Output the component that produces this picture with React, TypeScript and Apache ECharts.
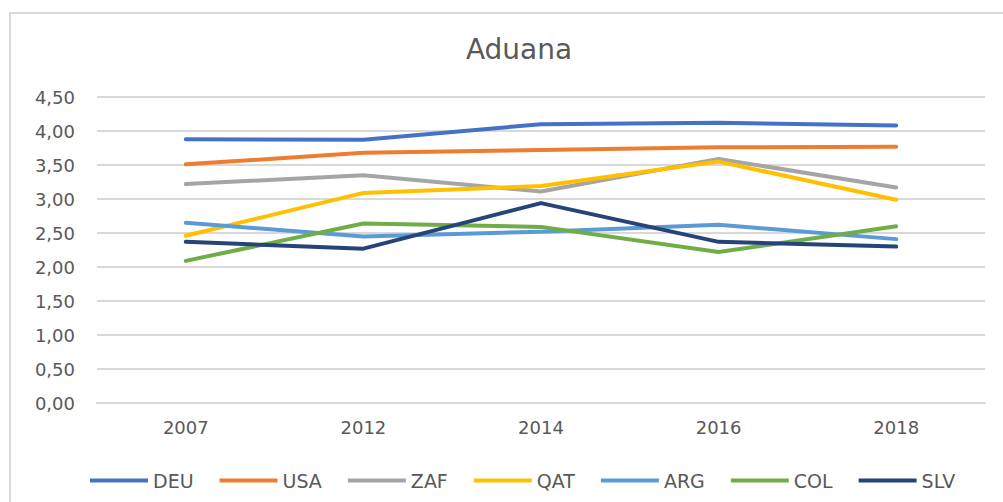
import React, { useEffect, useRef } from "react";
import * as echarts from "echarts";

const years = ["2007", "2012", "2014", "2016", "2018"];
const yTicks = [0, 0.5, 1, 1.5, 2, 2.5, 3, 3.5, 4, 4.5];

const DEU = [3.88, 3.87, 4.1, 4.12, 4.08];
const USA = [3.51, 3.68, 3.72, 3.76, 3.77];
const ZAF = [3.22, 3.35, 3.11, 3.59, 3.17];
const QAT = [2.46, 3.09, 3.19, 3.55, 2.99];
const ARG = [2.65, 2.45, 2.52, 2.62, 2.41];
const COL = [2.09, 2.64, 2.59, 2.22, 2.6];
const SLV = [2.37, 2.27, 2.94, 2.37, 2.3];

const seriesNames = ["DEU", "USA", "ZAF", "QAT", "ARG", "COL", "SLV"];
const seriesData = [DEU, USA, ZAF, QAT, ARG, COL, SLV];
const colors = ["#4472C4", "#ED7D31", "#A5A5A5", "#FFC000", "#5B9BD5", "#70AD47", "#264478"];

export default function App() {
  const ref = useRef<HTMLDivElement>(null);
  useEffect(() => {
    document.body.style.margin = "0";
    const chart = echarts.init(ref.current!, null, { renderer: "svg" });
    const font = "DejaVu Sans";
    chart.setOption({
      animation: false,
      backgroundColor: "#ffffff",
      color: colors,
      title: {
        text: "Aduana",
        left: 514,
        textAlign: "center",
        top: 30,
        textStyle: { fontFamily: font, fontSize: 28, fontWeight: "normal", color: "#595959" },
      },
      graphic: [
        { type: "line", shape: { x1: 9, y1: 13, x2: 1003, y2: 13 }, style: { stroke: "#d9d9d9", lineWidth: 2 } },
        { type: "line", shape: { x1: 10, y1: 13, x2: 10, y2: 502 }, style: { stroke: "#d9d9d9", lineWidth: 2 } },
      ],
      legend: {
        left: 85,
        top: 466,
        itemWidth: 58,
        itemHeight: 4,
        itemGap: 26,
        itemStyle: { borderWidth: 0 },
        itemTextGap: 2,
        icon: "rect",
        textStyle: { fontFamily: font, fontSize: 19, color: "#595959" },
        data: seriesNames,
      },
      grid: { left: 97, right: 18, top: 97, bottom: 99, containLabel: false },
      xAxis: {
        type: "category",
        data: years,
        boundaryGap: true,
        axisLine: { show: true, lineStyle: { color: "#d9d9d9", width: 2 } },
        axisTick: { show: false },
        axisLabel: { fontFamily: font, fontSize: 18, color: "#595959", margin: 15 },
      },
      yAxis: {
        type: "value",
        min: yTicks[0],
        max: yTicks[yTicks.length - 1],
        interval: 0.5,
        axisLine: { show: false },
        axisTick: { show: false },
        splitLine: { lineStyle: { color: "#d9d9d9", width: 2 } },
        axisLabel: {
          fontFamily: font,
          fontSize: 18,
          color: "#595959",
          margin: 22,
          formatter: (v: number) => v.toFixed(2).replace(".", ","),
        },
      },
      series: seriesNames.map((name, i) => ({
        name,
        type: "line",
        data: seriesData[i],
        showSymbol: false,
        symbol: "none",
        lineStyle: { width: 4, color: colors[i], cap: "round", join: "round" },
        itemStyle: { color: colors[i] },
      })),
    });
    return () => chart.dispose();
  }, []);
  return (
    <div
      ref={ref}
      style={{ position: "absolute", left: 0, top: 0, width: 1003, height: 502 }}
    />
  );
}
